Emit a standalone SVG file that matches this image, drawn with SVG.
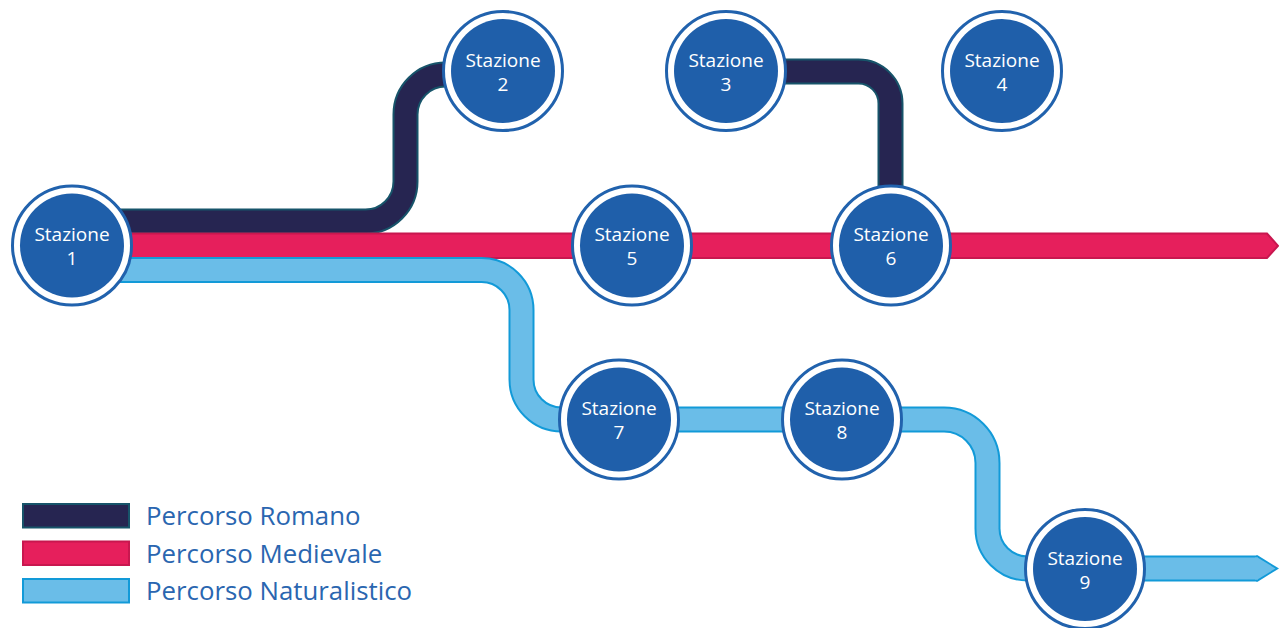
<svg xmlns="http://www.w3.org/2000/svg" width="1279" height="628" viewBox="0 0 1279 628">
<style>
.ro-o{fill:none;stroke:#17546a;stroke-width:26}
.ro-i{fill:none;stroke:#262551;stroke-width:22}
.na-o{fill:none;stroke:#129ad8;stroke-width:26}
.na-i{fill:none;stroke:#6abde8;stroke-width:22}
.ring{fill:#fff;stroke:#2162ad;stroke-width:3}
.core{fill:#1f5faa}
.st{fill:#fff;font-family:"Open Sans","Noto Sans",sans-serif;font-size:19px;text-anchor:middle}
.lg{fill:#2a66b0;font-family:"Open Sans","Noto Sans",sans-serif;font-size:25.8px}
</style>
<rect width="1279" height="628" fill="#fff"/>
<g id="connectors">
  <path class="ro-o" d="M72 221.5 H365 A40 40 0 0 0 405.5 181.5 V114.5 A40 40 0 0 1 445.5 74.5 H503"/>
  <path class="ro-i" d="M72 221.5 H365 A40 40 0 0 0 405.5 181.5 V114.5 A40 40 0 0 1 445.5 74.5 H503"/>
  <path class="ro-o" d="M726 71.5 H858.5 A32 32 0 0 1 890.5 103.5 V245"/>
  <path class="ro-i" d="M726 71.5 H858.5 A32 32 0 0 1 890.5 103.5 V245"/>
  <polygon points="72,233.5 1267,233.5 1278,245.8 1267,258 72,258" fill="#e61f5c" stroke="#c8174f" stroke-width="2"/>
  <path class="na-o" d="M72 270 H481.5 A40 40 0 0 1 521.5 310 V379.5 A40 40 0 0 0 561.5 419.5 H944 A43.5 43.5 0 0 1 987.5 463 V528.5 A40 40 0 0 0 1027.5 568.5 H1258"/>
  <polygon points="1256,555.5 1258,555.5 1279,568.5 1258,581.5 1256,581.5" fill="#129ad8"/>
  <path class="na-i" d="M72 270 H481.5 A40 40 0 0 1 521.5 310 V379.5 A40 40 0 0 0 561.5 419.5 H944 A43.5 43.5 0 0 1 987.5 463 V528.5 A40 40 0 0 0 1027.5 568.5 H1258"/>
  <polygon points="1255,557.5 1257.5,557.5 1275.5,568.5 1257.5,579.5 1255,579.5" fill="#6abde8"/>
</g>
<g id="s1"><circle class="ring" cx="72" cy="245.5" r="59.5"/><circle class="core" cx="72" cy="245.5" r="52"/><text class="st" x="72" y="241">Stazione</text><text class="st" x="72" y="265">1</text></g>
<g id="s2"><circle class="ring" cx="503" cy="71" r="59.5"/><circle class="core" cx="503" cy="71" r="52"/><text class="st" x="503" y="66.5">Stazione</text><text class="st" x="503" y="90.5">2</text></g>
<g id="s3"><circle class="ring" cx="726" cy="71" r="59.5"/><circle class="core" cx="726" cy="71" r="52"/><text class="st" x="726" y="66.5">Stazione</text><text class="st" x="726" y="90.5">3</text></g>
<g id="s4"><circle class="ring" cx="1002" cy="71" r="59.5"/><circle class="core" cx="1002" cy="71" r="52"/><text class="st" x="1002" y="66.5">Stazione</text><text class="st" x="1002" y="90.5">4</text></g>
<g id="s5"><circle class="ring" cx="632" cy="245.5" r="59.5"/><circle class="core" cx="632" cy="245.5" r="52"/><text class="st" x="632" y="241">Stazione</text><text class="st" x="632" y="265">5</text></g>
<g id="s6"><circle class="ring" cx="891" cy="245.5" r="59.5"/><circle class="core" cx="891" cy="245.5" r="52"/><text class="st" x="891" y="241">Stazione</text><text class="st" x="891" y="265">6</text></g>
<g id="s7"><circle class="ring" cx="619" cy="419.5" r="59.5"/><circle class="core" cx="619" cy="419.5" r="52"/><text class="st" x="619" y="415">Stazione</text><text class="st" x="619" y="439">7</text></g>
<g id="s8"><circle class="ring" cx="842" cy="419.5" r="59.5"/><circle class="core" cx="842" cy="419.5" r="52"/><text class="st" x="842" y="415">Stazione</text><text class="st" x="842" y="439">8</text></g>
<g id="s9"><circle class="ring" cx="1085" cy="569" r="59.5"/><circle class="core" cx="1085" cy="569" r="52"/><text class="st" x="1085" y="564.5">Stazione</text><text class="st" x="1085" y="588.5">9</text></g>
<g id="legend">
  <rect x="23" y="504" width="106" height="23.5" fill="#262551" stroke="#17546a" stroke-width="2"/>
  <rect x="23" y="541.5" width="106" height="23.5" fill="#e61f5c" stroke="#c8174f" stroke-width="2"/>
  <rect x="23" y="579" width="106" height="23.5" fill="#6abde8" stroke="#129ad8" stroke-width="2"/>
  <text class="lg" x="146" y="525">Percorso Romano</text>
  <text class="lg" x="146" y="563">Percorso Medievale</text>
  <text class="lg" x="146" y="600">Percorso Naturalistico</text>
</g>
</svg>
